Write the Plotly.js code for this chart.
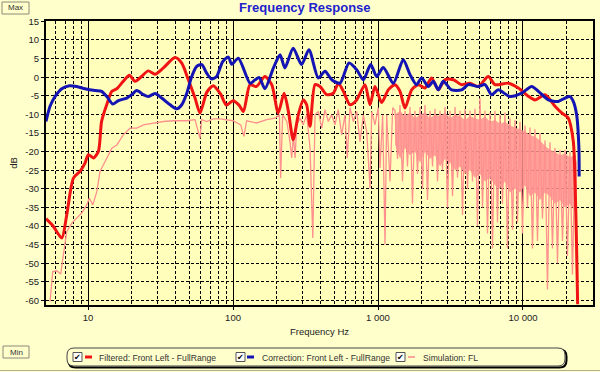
<!DOCTYPE html>
<html><head><meta charset="utf-8">
<script src="https://cdn.plot.ly/plotly-3.0.1.min.js"></script>
<style>html,body{margin:0;padding:0;background:#FFFFCC;}#chart{width:600px;height:372px;}</style>
</head><body><div id="chart"></div>
<script>
// ---- data ----
const filteredHz = [5.13,5.77,6.59,7.13,7.93,8.81,9.53,10.05,10.9,11.8,12.4,13.45,14.6,15.8,17.5,19.3,21.1,23.4,26.0,29.0,33.1,39.8,44.3,49.2,54.7,59.2,66,73,82,90,100,110,118,131,145,166,185,205,225,241,260,282,305,322,340,368,398,443,492,533,577,641,713,813,881,953,1060,1177,1309,1418,1535,1706,1896,2107,2342,2605,2895,3304,3773,4305,4915,5765,6410,7925,9290,10880,12100,14190,16630,18490,20520,22230,22840,23440,23820];
const filteredDb = [-38,-40.1,-43.2,-37,-27.1,-25.3,-23.1,-20.8,-21.7,-19.9,-11.9,-7.4,-3.8,-3.1,-1.1,0.5,-1.1,0.2,1.7,0.8,2.5,5.3,3.8,-0.7,-5.6,-9.6,-4,-2.3,-4.5,-7.5,-6.3,-7.5,-9.2,-2.0,-2.5,0.2,-2.0,-9.6,-4.3,-9.2,-16.8,-10.1,-6.1,-7.4,-13.2,-2.0,-2.5,-4.7,-4.3,-1.6,-3.8,-7.4,-6.1,-2.0,-7.4,-2.5,-6.8,-3.4,-2.0,-3.8,-8.3,-3.4,-2.0,-2.9,-0.2,-3.4,-0.7,-0.7,-2.0,-1.6,-2.5,0.2,-2.0,-1.6,-2.9,-5.1,-6.1,-4.7,-7.8,-9.6,-11.0,-17.2,-28,-46,-61];

const correctionHz = [5.13,5.47,5.92,6.59,7.43,8.36,9.53,11.2,12.4,13.6,14.8,16.2,18.5,20.0,21.7,24.1,26.0,29.0,32.2,36.8,40.9,44.3,48,51.9,56.2,60.9,65.8,71.1,77.1,84.9,92.9,97.9,108.9,131,141.9,151.8,166,190,211,228,260,297,334,387,431,480,547,631,713,792,891,979,1088,1276,1492,1663,1846,2000,2222,2407,2605,2818,3218,3773,4195,4915,5470,6080,6760,8130,9790,11480,12770,14950,17530,19500,21100,22230,23440,24300,24400];
const correctionDb = [-11.9,-7.8,-5.2,-3.1,-2.3,-2.5,-3.1,-3.6,-3.8,-5.4,-7.2,-6.3,-5.6,-4.7,-3.6,-4.7,-5.2,-4.4,-5.6,-7.4,-8.5,-7.4,-4.3,0.2,2.9,3.4,1.1,-0.5,0.2,4.2,5.4,3.5,5.1,-1.6,-0.7,-0.1,-3.1,2.5,6.0,2.5,7.8,3.4,7.4,-0.2,1.6,-0.7,-1.6,3.8,2.0,-0.7,3.4,0.2,2.6,-1.6,4.7,0.7,-2.0,-0.2,-2.5,-1.1,-3.4,-1.1,-3.4,-3.4,-2.0,-2.5,-2.0,-4.7,-3.4,-5.2,-4.3,-2.5,-3.8,-6.1,-6.5,-5.6,-5.2,-6.5,-10.1,-19,-26.7];

const simHz = [5.47,5.71,6.08,6.48,6.76,7.13,7.73,8.36,9.05,9.79,10.2,10.8,11.5,12.1,13.1,14.6,15.8,17.5,19.5,21.7,24.1,28.2,33.1,38.7,47.9,54.7,57.7,59.2,60.8,65.8,73.1,81.3,100,113,119,124,145,171,195,209,213,220,235,247,254,261,268,275,290,305,322,340,355,368,388,409,431,454,479,505,532,562,592,614,641,676,713,751,792,836,881,905,953,1005,1032,1077,1118,1148,1210,1263,
  1310,1363,1418,1476,1535,1597,1662,1729,1800,1873,1949,2027,2109,2195,2284,2376,2473,2573,2677,2786,2899,3016,3139,3266,3398,3535,3679,3828,3981,4143,4311,4485,4667,4856,5052,5257,5470,5691,5922,6162,6411,6670,6941,7222,7514,7818,8135,8464,8807,9164,9535,9921,10323,10740,11175,11628,12098,12589,13098,13629,14181,14755,15352,15973,16620,17293,17993,18722,19480,20268,21089,21943,22831,23570];
const simDb = [-60.3,-52.2,-52.0,-52.9,-47.7,-41.5,-39.2,-37.9,-36.5,-34.3,-32.5,-34.3,-30.7,-25.3,-22.6,-19.1,-18.2,-15.5,-13.7,-13.7,-12.8,-12.3,-11.9,-11.7,-11.7,-11.4,-15.0,-16.4,-11.4,-11.9,-11.2,-11.2,-11.7,-12.8,-15.9,-11.7,-12.3,-11.4,-11,-10.1,-27.1,-10.1,-11.9,-17.3,-21.7,-15.5,-21.7,-12.8,-11,-12.8,-10.1,-19.1,-43.2,-10.1,-9.2,-13.7,-8.7,-11.9,-10.1,-12.8,-8.7,-15.5,-10.1,-21.7,-8.2,-11.9,-9.2,-17.3,-10.1,-14.6,-29.8,-9.2,-12.8,-8.2,-24.4,-10.1,-45,-10.1,-28,-8.2,
  -9,-22,-7.5,-28,-9,-24,-8,-34,-9,-26,-8,-30,-7.5,-33,-9,-24,-8.5,-28,-9,-25,-8,-35,-9,-32,-8,-27,-9,-37,-8.5,-30,-9,-28,-8.5,-40,-5.6,-35,-9,-42,-9.5,-46,-9,-39,-10,-34,-9.5,-46,-11,-41,-11.5,-39,-12,-42,-13,-35,-13.5,-46,-14,-44,-15,-38,-17,-57,-17.5,-46,-19,-50,-19.5,-44,-19.5,-48,-20,-53,-21,-60];

// dense part of the simulation trace (ragged envelope of the band)
const simBandHz = [1310,1420,1530,1660,1800,1950,2110,2280,2470,2680,2900,3140,3400,3680,3980,4310,4670,5050,5470,5920,6410,6940,7510,8140,8810,9540,10320,11180,12100,13100,14180,15350,16620,17990,19480,21090,22830,23570];
const simBandTop = [-10,-9,-10.5,-9.5,-11,-10,-9.5,-11,-10,-10.5,-9.5,-11,-10,-10.5,-11.5,-10.5,-11,-11.5,-10.5,-12,-11.5,-12.5,-12,-13,-13.5,-14,-14.5,-15.5,-16,-17,-18.5,-19.5,-20,-21,-20.5,-21.5,-21,-23];
const simBandBottom = [-18,-22,-19,-21,-20,-23,-20,-22,-21,-24,-22,-23,-25,-24,-26,-25,-27,-26,-28,-27,-29,-30,-28,-31,-30,-31,-29,-32,-31,-33,-31,-32,-34,-33,-35,-34,-36,-36];

const xTickVals = [10,100,1000,10000];
const xTickText = ['10','100','1 000','10 000'];
const yTickVals = [15,10,5,0,-5,-10,-15,-20,-25,-30,-35,-40,-45,-50,-55,-60];
const yTickText = ['15','10','5','0','-5','-10','-15','-20','-25','-30','-35','-40','-45','-50','-55','-60'];

const seriesNames = ['Filtered: Front Left - FullRange','Correction: Front Left - FullRange','Simulation: FL'];
const seriesColors = ['#F01414','#1414B4','#FF9090'];

// ---- layout helpers (pixel -> paper) ----
const L=46,R=593,T=21,B=305;
const px = x => (x-L)/(R-L);
const py = y => (B-y)/(B-T);
const FONT = 'Liberation Sans, Arial, sans-serif';

function rrect(l,t,r,b,rad){
  return 'M'+px(l+rad)+','+py(t)+' L'+px(r-rad)+','+py(t)+' Q'+px(r)+','+py(t)+' '+px(r)+','+py(t+rad)+
    ' L'+px(r)+','+py(b-rad)+' Q'+px(r)+','+py(b)+' '+px(r-rad)+','+py(b)+
    ' L'+px(l+rad)+','+py(b)+' Q'+px(l)+','+py(b)+' '+px(l)+','+py(b-rad)+
    ' L'+px(l)+','+py(t+rad)+' Q'+px(l)+','+py(t)+' '+px(l+rad)+','+py(t)+' Z';
}

const traces = [
  {x:simBandHz, y:simBandTop, mode:'lines', line:{width:0, color:seriesColors[2]}, showlegend:false, hoverinfo:'skip'},
  {x:simBandHz, y:simBandBottom, mode:'lines', line:{width:0, color:seriesColors[2]}, fill:'tonexty', fillcolor:'rgba(255,144,144,0.85)', showlegend:false, hoverinfo:'skip'},
  {x:simHz, y:simDb, name:seriesNames[2], mode:'lines', line:{width:1.3, color:seriesColors[2]}},
  {x:filteredHz, y:filteredDb, name:seriesNames[0], mode:'lines', line:{width:3, color:seriesColors[0], shape:'spline', smoothing:0.7}},
  {x:correctionHz, y:correctionDb, name:seriesNames[1], mode:'lines', line:{width:3, color:seriesColors[1], shape:'spline', smoothing:0.7}}
];

const shapes = [];
const annotations = [];
// Max / Min boxes
[[2,2,29,14,'Max'],[3,346,29,358,'Min']].forEach(b=>{
  shapes.push({type:'rect', xref:'paper', yref:'paper', x0:px(b[0]), x1:px(b[2]), y0:py(b[1]), y1:py(b[3]), line:{color:'#8a8a7a', width:1}, fillcolor:'rgba(0,0,0,0)'});
  annotations.push({xref:'paper', yref:'paper', x:px((b[0]+b[2])/2), y:py((b[1]+b[3])/2), text:b[4], showarrow:false, xanchor:'center', yanchor:'middle', font:{family:FONT, size:8, color:'#333'}});
});
// legend frame
shapes.push({type:'path', xref:'paper', yref:'paper', path:rrect(68.5,349.5,566.5,367.5,7), line:{color:'#000', width:2}, fillcolor:'rgba(0,0,0,0)'});
shapes.push({type:'path', xref:'paper', yref:'paper', path:rrect(67,348,565,366,7), line:{color:'#444', width:1}, fillcolor:'#FFFFCC'});
// legend items
const boxX = [73,236,396], dashX = [85,247,408], textX = [97,260,421];
for(let i=0;i<3;i++){
  shapes.push({type:'rect', xref:'paper', yref:'paper', x0:px(boxX[i]), x1:px(boxX[i]+9), y0:py(352.5), y1:py(361.5), line:{color:'#555', width:1}, fillcolor:'#FFFFFF'});
  annotations.push({xref:'paper', yref:'paper', x:px(boxX[i]+4.5), y:py(357.5), text:'✔', showarrow:false, xanchor:'center', yanchor:'middle', font:{family:'DejaVu Sans', size:8, color:'#000'}});
  shapes.push({type:'line', xref:'paper', yref:'paper', x0:px(dashX[i]), x1:px(dashX[i]+7), y0:py(357), y1:py(357), line:{color:seriesColors[i], width:i<2?3:1.6}});
  annotations.push({xref:'paper', yref:'paper', x:px(textX[i]), y:py(357.5), text:seriesNames[i], showarrow:false, xanchor:'left', yanchor:'middle', font:{family:FONT, size:8.6, color:'#333'}});
}
// bottom frame line
shapes.push({type:'line', xref:'paper', yref:'paper', x0:px(0), x1:px(600), y0:py(370.5), y1:py(370.5), line:{color:'#b0b090', width:1}});

const layout = {
  width:600, height:372,
  paper_bgcolor:'#FFFFCC', plot_bgcolor:'#FFFFBB',
  margin:{l:46, r:7, t:21, b:67, pad:0},
  showlegend:false,
  title:{text:'<b>Frequency Response</b>', font:{family:FONT, size:13, color:'#2222CC'}, x:0.508, xref:'container', xanchor:'center', y:1-7/372, yref:'container', yanchor:'middle'},
  xaxis:{type:'log', range:[Math.log10(5.13), Math.log10(30400)], tickmode:'array', tickvals:xTickVals, ticktext:xTickText,
    showgrid:true, gridcolor:'#000', gridwidth:1,
    minor:{dtick:'D1', showgrid:true, gridcolor:'#000', griddash:'3px,2px', gridwidth:1, ticks:''},
    showline:true, mirror:true, linecolor:'#000', linewidth:2, ticks:'outside', ticklen:3, tickcolor:'#000',
    tickfont:{family:FONT, size:9.5, color:'#222'}, zeroline:false,
    title:{text:'Frequency Hz', font:{family:FONT, size:9.5, color:'#222'}, standoff:6}},
  yaxis:{range:[-61.2,15.1], tickmode:'array', tickvals:yTickVals, ticktext:yTickText,
    showgrid:true, gridcolor:'#000', gridwidth:1, griddash:'3px,2px',
    showline:true, mirror:true, linecolor:'#000', linewidth:2, ticks:'outside', ticklen:3, tickcolor:'#000',
    tickfont:{family:FONT, size:9.5, color:'#222'}, zeroline:false,
    title:{text:'dB', font:{family:FONT, size:9.5, color:'#222'}, standoff:6}},
  shapes:shapes, annotations:annotations
};
Plotly.newPlot('chart', traces, layout, {staticPlot:true, displayModeBar:false});
</script></body></html>
